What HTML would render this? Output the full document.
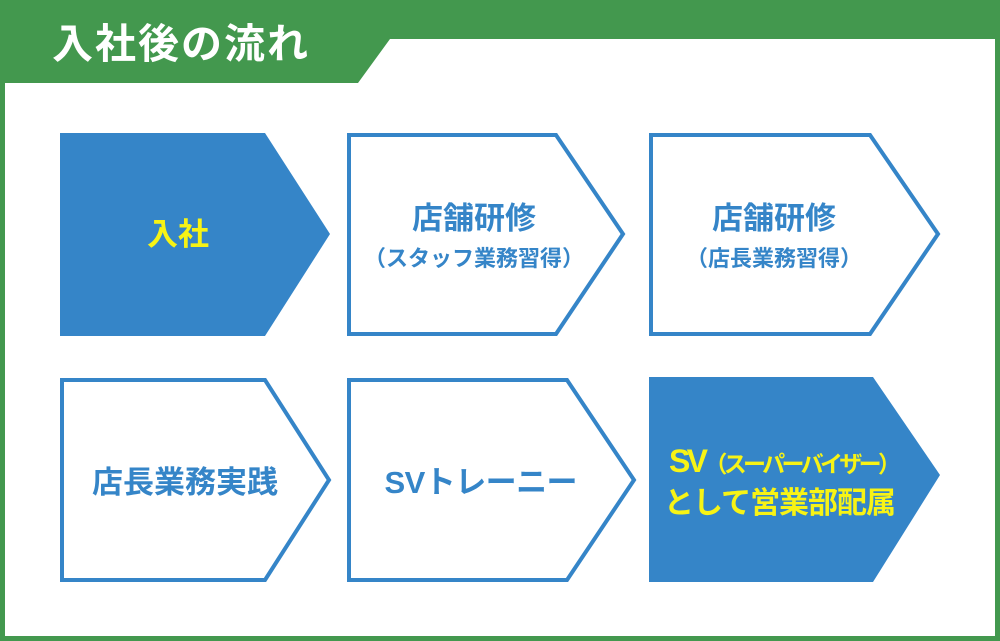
<!DOCTYPE html>
<html><head><meta charset="utf-8"><style>
body{margin:0;width:1000px;height:641px;overflow:hidden;background:#fff}
svg{display:block}
text{font-family:"Liberation Sans","Noto Sans CJK JP",sans-serif;font-weight:bold;text-anchor:middle}
</style></head><body>
<svg width="1000" height="641" viewBox="0 0 1000 641">
<rect width="1000" height="641" fill="#43984e"/>
<polygon points="5,83 358,83 390,39 995,39 995,636 5,636" fill="#fff"/>
<text x="52" y="58" fill="#fff" font-size="41" style="text-anchor:start" textLength="256">入社後の流れ</text>
<g stroke="#3585c8" stroke-width="4" fill="#fff">
<polygon points="60,133 265,133 330,234 265,336 60,336" fill="#3585c8" stroke="none"/>
<polygon points="349,135 556,135 623,234 556,334 349,334"/>
<polygon points="651,135 870,135 938,234 870,334 651,334"/>
<polygon points="62,380 265,380 329,480 265,580 62,580"/>
<polygon points="349,380 567,380 634,480 567,580 349,580"/>
<polygon points="649,377 873,377 940,475 873,582 649,582" fill="#3585c8" stroke="none"/>
</g>
<text x="178" y="245" fill="#f7f315" font-size="31">入社</text>
<g fill="#3585c8">
<text x="474" y="229" font-size="31">店舗研修</text>
<text x="474" y="266" font-size="22" textLength="220">（スタッフ業務習得）</text>
<text x="774" y="229" font-size="31">店舗研修</text>
<text x="774" y="266" font-size="22" textLength="176">（店長業務習得）</text>
<text x="185" y="493" font-size="31">店長業務実践</text>
<text x="481" y="493" font-size="31" textLength="193">SVトレーニー</text>
</g>
<text x="785" y="472" fill="#f7f315" font-size="23" textLength="232"><tspan font-size="32">SV</tspan>（スーパーバイザー）</text>
<text x="780" y="513" fill="#f7f315" font-size="30" textLength="232">として営業部配属</text>
</svg>
</body></html>
